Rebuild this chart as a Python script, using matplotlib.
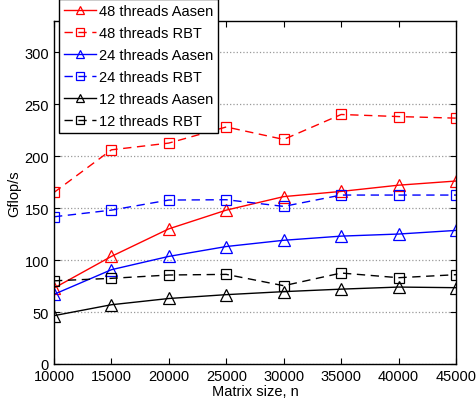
import numpy as np
import matplotlib.pyplot as plt

plt.rcParams['font.family'] = ['Liberation Sans', 'DejaVu Sans']

n = [10000, 15000, 20000, 25000, 30000, 35000, 40000, 45000]
aasen48 = [73, 103.5, 130, 148, 161, 166, 172, 176]
rbt48 = [165, 206, 212.5, 228, 216, 240, 238, 236.5]
aasen24 = [67, 90.7, 103.5, 113, 119, 123, 125, 128.5]
rbt24 = [141.6, 148, 157.7, 158, 151.6, 162.5, 162.5, 162.5]
aasen12 = [46.5, 57, 63, 66.7, 69.6, 72, 74, 73.4]
rbt12 = [80, 82.4, 85.6, 86.2, 75.3, 87.5, 83, 85.9]

fig = plt.figure(figsize=(4.76, 4.06), dpi=100)
ax = fig.add_axes([0.1134, 0.101, 0.8446, 0.845])

mk = dict(markersize=8, markerfacecolor='none', lw=1, markeredgewidth=0.9)
sq = dict(mk, markersize=7, dashes=(6, 4))
ax.plot(n, aasen48, '-^', color='red', label='48 threads Aasen', **mk)
ax.plot(n, rbt48, '--s', color='red', label='48 threads RBT', **sq)
ax.plot(n, aasen24, '-^', color='blue', label='24 threads Aasen', **mk)
ax.plot(n, rbt24, '--s', color='blue', label='24 threads RBT', **sq)
ax.plot(n, aasen12, '-^', color='black', label='12 threads Aasen', **mk)
ax.plot(n, rbt12, '--s', color='black', label='12 threads RBT', **sq)

ax.set_xlim(10000, 45000)
ax.set_ylim(0, 330)
ax.set_xticks(n)
ax.set_yticks([0, 50, 100, 150, 200, 250, 300])
ax.tick_params(direction='in', labelsize=10.5, length=4, top=True, right=True)
ax.yaxis.grid(True, linestyle=':', color='#999999', lw=0.9)
ax.set_xlabel('Matrix size, n', fontsize=10.5, labelpad=1)
ax.set_ylabel('Gflop/s', fontsize=10.5, labelpad=2)
for s in ax.spines.values():
    s.set_linewidth(1)

leg = fig.legend(loc='upper left', bbox_to_anchor=(59 / 476, 1.0), fontsize=10.5,
                 fancybox=False, edgecolor='black', framealpha=1,
                 handlelength=2.2, handletextpad=0.2, labelspacing=0.55,
                 borderpad=0.35, borderaxespad=0, markerscale=0.75)
leg.get_frame().set_linewidth(1)

fig.savefig('out.png', dpi=100)
